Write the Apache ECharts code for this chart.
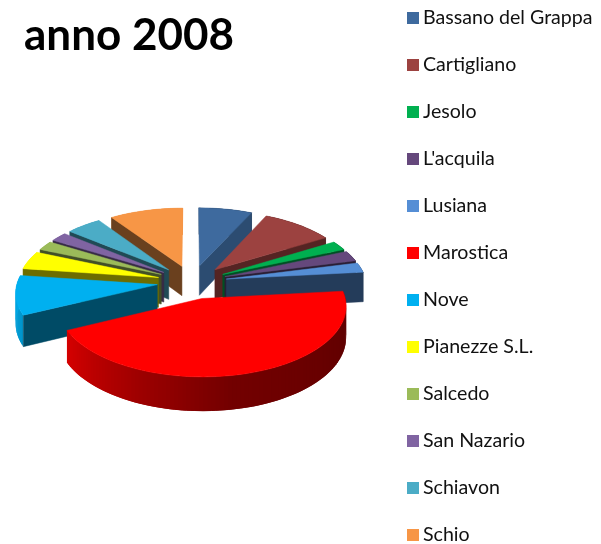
<!DOCTYPE html>
<html><head><meta charset="utf-8">
<style>html,body{margin:0;padding:0;background:#fff}#c{width:601px;height:544px}</style>
<script src="https://cdn.jsdelivr.net/npm/echarts@6/dist/echarts.min.js"></script>
</head><body><div id="c"></div>
<script>
const titleText = 'anno 2008';
const categories = ['Bassano del Grappa','Cartigliano','Jesolo',"L'acquila",'Lusiana','Marostica','Nove','Pianezze S.L.','Salcedo','San Nazario','Schiavon','Schio'];
const shares = [6.9, 9.4, 2.2, 2.5, 2.3, 44.5, 9.3, 4.3, 2.2, 2.2, 4.6, 9.5];
const colors = ['#3E6A9E','#9C4240','#00B050','#65487C','#558ED5','#FF0000','#00B0F0','#FFFF00','#9BBB59','#8064A2','#4BACC6','#F79646'];

const CX = 192, CY = 282, RX = 140, RY = 67, PERSP = 0.1, EXPLODE = 0.25, DEPTH = 30;
const total = shares.reduce((a, b) => a + b, 0);
const rad = d => d * Math.PI / 180;

let acc = 0;
const slices = shares.map(v => { const s = acc; acc += v / total * 360; return { start: s, end: acc, mid: (s + acc) / 2 }; });
const order = slices.map((s, i) => [Math.cos(rad(s.mid)), i]).sort((a, b) => b[0] - a[0]).map(p => p[1]);

function project(X, Y, drop) {
  const s = 1 / (1 + PERSP * Y);
  return [CX + RX * X * s, CY - RY * Y * s + drop * s];
}
function shade(hex, f) {
  const n = parseInt(hex.slice(1), 16);
  const c = [n >> 16 & 255, n >> 8 & 255, n & 255].map(v => Math.round(v * f));
  return `rgb(${c[0]},${c[1]},${c[2]})`;
}
function lerpTable(tbl, a) {
  for (let i = 1; i < tbl.length; i++) {
    if (a <= tbl[i][0]) {
      const t = (a - tbl[i - 1][0]) / (tbl[i][0] - tbl[i - 1][0]);
      return tbl[i - 1][1] + t * (tbl[i][1] - tbl[i - 1][1]);
    }
  }
  return tbl[tbl.length - 1][1];
}
const rimLight = [[0,.4],[85,.36],[170,.45],[200,.6],[246,.85],[270,.95],[360,.95]];
const edgeLight = [[0,.75],[24,.72],[58,.55],[70,.42],[360,.43]];

function poly(points, fill, stroked) {
  return { type: 'polygon', shape: { points }, style: stroked ? { fill, stroke: fill, lineWidth: 0.5 } : { fill } };
}
function sliceRender(idx) {
  return function (params, api) {
    const v = api.value(0);
    const sl = slices[idx], col = colors[idx];
    const span = v / total * 360;
    const a0 = sl.start, a1 = a0 + span;
    const ox = EXPLODE * Math.sin(rad(sl.mid)), oy = EXPLODE * Math.cos(rad(sl.mid));
    const rim = a => [ox + Math.sin(rad(a)), oy + Math.cos(rad(a))];
    const kids = [];
    const steps = Math.max(2, Math.ceil(span / 1.5));
    const angs = [];
    for (let i = 0; i <= steps; i++) angs.push(a0 + span * i / steps);
    // outer wall: overlapping strips, so no seams show between them
    for (let i = 0; i < steps; i++) {
      const p = rim(angs[i]), q = rim(angs[Math.min(i + 2, steps)]);
      kids.push(poly([project(p[0], p[1], 0), project(q[0], q[1], 0), project(q[0], q[1], DEPTH), project(p[0], p[1], DEPTH)],
        shade(col, lerpTable(rimLight, (angs[i] + angs[i + 1]) / 2)), false));
    }
    // radial walls
    const radial = a => {
      const p = rim(a);
      kids.push(poly([project(ox, oy, 0), project(p[0], p[1], 0), project(p[0], p[1], DEPTH), project(ox, oy, DEPTH)],
        shade(col, lerpTable(edgeLight, a)), true));
    };
    if (Math.sin(rad(a0)) < -1e-6) radial(a0);
    if (Math.sin(rad(a1)) > 1e-6) radial(a1);
    // top
    const top = [project(ox, oy, 0)];
    angs.forEach(a => { const p = rim(a); top.push(project(p[0], p[1], 0)); });
    kids.push(poly(top, col, true));
    return { type: 'group', children: kids };
  };
}

const chart = echarts.init(document.getElementById('c'), null, { renderer: 'canvas' });
chart.setOption({
  animation: false,
  color: colors,
  title: { text: titleText, left: 19, top: 9,
    textStyle: { fontFamily: 'Lato', fontWeight: 'bold', fontSize: 44, color: '#000' } },
  legend: {
    orient: 'vertical', left: 407, top: 8, height: 540, itemWidth: 12, itemHeight: 12, itemGap: 27, padding: 0,
    icon: 'rect', selectedMode: false, data: categories,
    textStyle: { fontFamily: 'Lato', fontSize: 19.6, color: '#111', padding: [0, 0, 0, -1] }
  },
  series: categories.map((name, i) => ({
    type: 'custom', name, coordinateSystem: 'none', silent: true, clip: false,
    z: 2 + order.indexOf(i),
    itemStyle: { color: colors[i] },
    renderItem: sliceRender(i),
    data: [[shares[i]]]
  }))
});
</script></body></html>
